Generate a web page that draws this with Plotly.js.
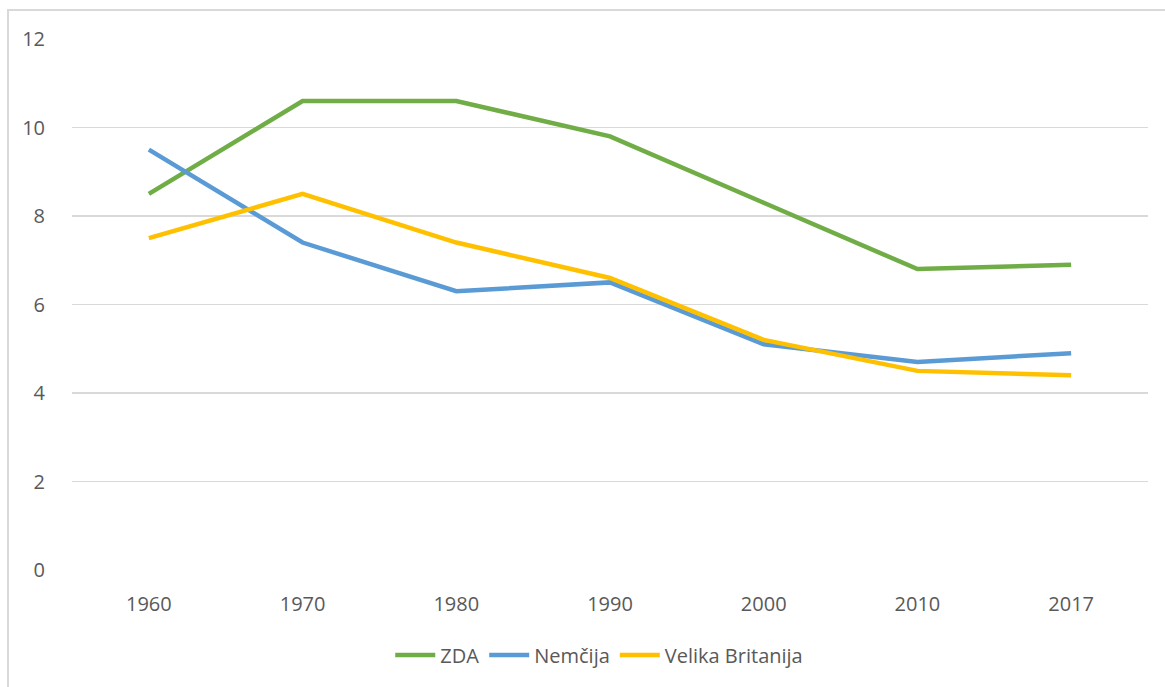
<!DOCTYPE html>
<html>
<head>
<meta charset="utf-8">
<script src="https://cdn.plot.ly/plotly-3.0.1.min.js"></script>
<style>
html, body { margin: 0; padding: 0; background: #fff; }
#chart { position: absolute; left: 0; top: 0; width: 1165px; height: 687px; }
#frame { position: absolute; left: 7px; top: 9px; width: 1200px; height: 700px; border: 2px solid #d9d9d9; pointer-events: none; }
</style>
</head>
<body>
<div id="chart"></div>
<div id="frame"></div>
<script>
const years = ['1960', '1970', '1980', '1990', '2000', '2010', '2017'];
const zda = [8.5, 10.6, 10.6, 9.8, 8.3, 6.8, 6.9];
const nemcija = [9.5, 7.4, 6.3, 6.5, 5.1, 4.7, 4.9];
const britanija = [7.5, 8.5, 7.4, 6.6, 5.2, 4.5, 4.4];
const yTicks = [0, 2, 4, 6, 8, 10, 12];

const mk = (name, y, color) => ({
  type: 'scatter', mode: 'lines', name: name, x: years, y: y,
  line: { color: color, width: 4.5 }
});

const data = [
  mk('ZDA', zda, '#70AD47'),
  mk('Nemčija', nemcija, '#5B9BD5'),
  mk('Velika Britanija', britanija, '#FFC000')
];

const layout = {
  width: 1165, height: 687,
  margin: { l: 72, r: 17, t: 39, b: 117 },
  paper_bgcolor: '#ffffff', plot_bgcolor: '#ffffff',
  font: { family: 'Open Sans, Liberation Sans, sans-serif', size: 20, color: '#595959' },
  xaxis: {
    type: 'category', range: [-0.5, 6.5], showgrid: false, zeroline: false, showline: false,
    ticks: 'outside', ticklen: 16, tickcolor: 'rgba(0,0,0,0)',
    tickfont: { size: 20, color: '#595959' }
  },
  yaxis: {
    range: [0, 12], tickvals: yTicks, ticktext: yTicks.map(String),
    showgrid: true, gridcolor: '#d9d9d9', gridwidth: 1.5,
    zeroline: false, showline: false,
    ticks: 'outside', ticklen: 22, tickcolor: 'rgba(0,0,0,0)',
    tickfont: { size: 20, color: '#595959' }
  },
  showlegend: true,
  legend: {
    orientation: 'h', x: 0.49, xanchor: 'center', y: -0.16, yanchor: 'middle',
    font: { size: 20, color: '#595959' }, itemwidth: 40
  }
};

Plotly.newPlot('chart', data, layout, { displayModeBar: false, staticPlot: true });
</script>
</body>
</html>
